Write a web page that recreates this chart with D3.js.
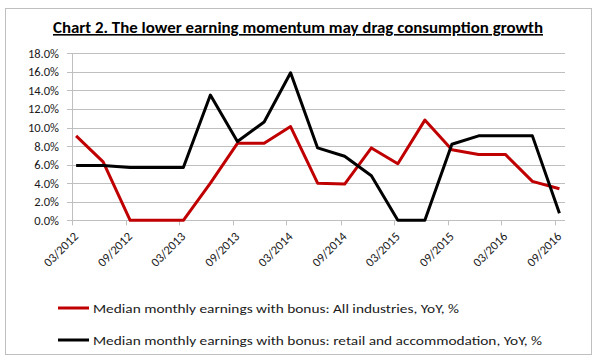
<!DOCTYPE html>
<html><head><meta charset="utf-8">
<script src="https://cdn.jsdelivr.net/npm/d3@7/dist/d3.min.js"></script>
<style>body{margin:0;background:#fff}svg{display:block}</style>
</head><body><svg id="c" width="600" height="362"></svg>
<script>
const periods = ["03/2012","06/2012","09/2012","12/2012","03/2013","06/2013","09/2013","12/2013","03/2014","06/2014","09/2014","12/2014","03/2015","06/2015","09/2015","12/2015","03/2016","06/2016","09/2016"];
const allIndustries = [9.1,6.3,0,0,0,4.0,8.3,8.3,10.1,4.0,3.9,7.8,6.1,10.8,7.6,7.1,7.1,4.2,3.4];
const retailAccom = [5.9,5.9,5.7,5.7,5.7,13.5,8.5,10.6,15.9,7.8,6.9,4.8,0,0,8.2,9.1,9.1,9.1,0.75];
const tickLabels = ["03/2012","09/2012","03/2013","09/2013","03/2014","09/2014","03/2015","09/2015","03/2016","09/2016"];
const yTicks = [0,2,4,6,8,10,12,14,16,18];
const seriesNames = ["Median monthly earnings with bonus: All industries, YoY, %","Median monthly earnings with bonus: retail and accommodation, YoY, %"];
const seriesColors = ["#c00000","#000000"];
const title = "Chart 2. The lower earning momentum may drag consumption growth";

const svg = d3.select("#c");
const font = "Carlito, Lato, 'Liberation Sans', sans-serif";
const parse = d3.timeParse("%m/%Y");
const dataDate = s => { const d = parse(s); return new Date(d.getFullYear(), d.getMonth(), 15); };

// border
svg.append("rect").attr("x",5.5).attr("y",8.5).attr("width",586).attr("height",346)
  .attr("fill","#fff").attr("stroke","#bfbfbf").attr("stroke-width",1);

// title
svg.append("text").attr("x",298).attr("y",33).attr("text-anchor","middle")
  .attr("font-family",font).attr("font-weight","bold").attr("font-size",16)
  .attr("text-decoration","underline").attr("fill","#000")
  .attr("textLength",490).attr("lengthAdjust","spacingAndGlyphs").text(title);

const x = d3.scaleTime().domain([new Date(2012,2,1), new Date(2016,9,4)]).range([72,565]);
const y = d3.scaleLinear().domain([0,18]).range([220.3,53.3]);

// gridlines
svg.append("g").selectAll("line").data(yTicks).join("line")
  .attr("x1",67).attr("x2",565).attr("y1",d=>Math.round(y(d))+0.5).attr("y2",d=>Math.round(y(d))+0.5)
  .attr("stroke","#bfbfbf").attr("stroke-width",1);
// y axis line
svg.append("line").attr("x1",72.5).attr("x2",72.5).attr("y1",y(18)).attr("y2",y(0))
  .attr("stroke","#bfbfbf");
// y labels
svg.append("g").selectAll("text").data(yTicks).join("text")
  .attr("x",59).attr("y",d=>y(d)+4.5).attr("text-anchor","end")
  .attr("font-family",font).attr("font-size",12.5).attr("fill","#1a1a1a")
  .text(d=>d.toFixed(1)+"%");

// x axis
const xt = tickLabels.map(parse);
svg.append("g").selectAll("line").data(xt).join("line")
  .attr("x1",d=>Math.round(x(d))+0.5).attr("x2",d=>Math.round(x(d))+0.5)
  .attr("y1",y(0)).attr("y2",y(0)+5).attr("stroke","#bfbfbf");
svg.append("g").selectAll("text").data(tickLabels).join("text")
  .attr("transform",s=>`translate(${x(parse(s))+7},${y(0)+17}) rotate(-45)`)
  .attr("text-anchor","end").attr("font-family",font).attr("font-size",12.5).attr("fill","#1a1a1a")
  .text(s=>s);

// lines
const line = d3.line().x((d,i)=>x(dataDate(periods[i]))).y(d=>y(d));
[allIndustries, retailAccom].forEach((vals,k)=>{
  svg.append("path").datum(vals).attr("d",line).attr("fill","none")
    .attr("stroke",seriesColors[k]).attr("stroke-width",3).attr("stroke-linejoin","round");
});

// legend
seriesNames.forEach((n,k)=>{
  const ly = 308 + k*32;
  svg.append("line").attr("x1",58).attr("x2",89).attr("y1",ly).attr("y2",ly)
    .attr("stroke",seriesColors[k]).attr("stroke-width",3);
  svg.append("text").attr("x",93).attr("y",ly+5).attr("font-family",font).attr("font-size",13)
    .attr("fill","#1a1a1a").attr("textLength",k===0?366:449).attr("lengthAdjust","spacingAndGlyphs").text(n);
});
</script></body></html>
